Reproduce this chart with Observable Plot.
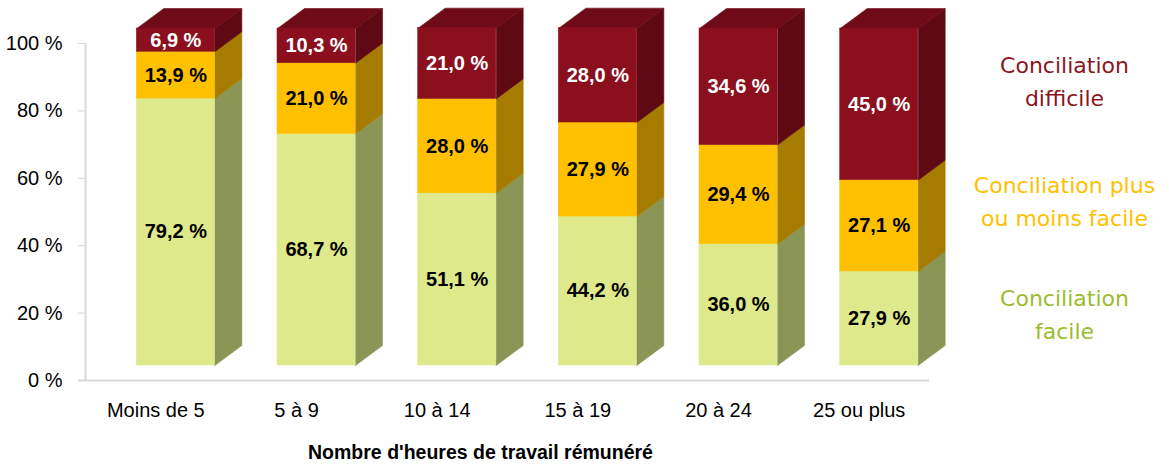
<!DOCTYPE html>
<html>
<head>
<meta charset="utf-8">
<script src="https://cdn.jsdelivr.net/npm/d3@7"></script>
<script src="https://cdn.jsdelivr.net/npm/@observablehq/plot@0.6"></script>
<style>
  html, body { margin: 0; padding: 0; background: #fff; }
  #wrap { position: relative; width: 1169px; height: 466px; overflow: hidden; }
  #chart { position: absolute; left: 0; top: 0; }
  .leg { position: absolute; left: 960px; width: 209px; text-align: center;
         font-family: "DejaVu Sans", sans-serif; font-size: 22px; line-height: 33px; }
</style>
</head>
<body>
<div id="wrap">
  <div id="chart"></div>
</div>
<script>
// ---- data ----
const categories = ["Moins de 5", "5 à 9", "10 à 14", "15 à 19", "20 à 24", "25 ou plus"];
const facile     = [79.2, 68.7, 51.1, 44.2, 36.0, 27.9];
const moyen      = [13.9, 21.0, 28.0, 27.9, 29.4, 27.1];
const difficile  = [6.9, 10.3, 21.0, 28.0, 34.6, 45.0];
const seriesNames = ["Conciliation facile", "Conciliation plus ou moins facile", "Conciliation difficile"];
const legendLines = [["Conciliation", "difficile"], ["Conciliation plus", "ou moins facile"], ["Conciliation", "facile"]];
const yTicks = [0, 20, 40, 60, 80, 100];
const axisTitle = "Nombre d'heures de travail rémunéré";

// ---- styles ----
const frontColors = ["#DDE98A", "#FFC000", "#8C0F1E"];
const sideColors  = ["#8B9656", "#A67C00", "#5E0913"];
const topColor    = "#6F0B17";
const legendColors = ["#8C1522", "#FFC000", "#9CBB2E"];
const labelColors = ["#000", "#000", "#fff"];

const W = 960, H = 466, mL = 85, mR = 31, mT = 43, mB = 86;
const shift = {dx: 20, dy: -15};     // front-face perspective shift (px)
const depthPx = {x: 27, y: 20};      // extrusion depth (px)
const barPx = 78;                    // front-face width (px)
const stepPx = (W - mL - mR) / categories.length;
const hw = barPx / 2 / stepPx;                   // half-width in x units
const ddx = depthPx.x / stepPx;                  // depth in x units
const ddy = depthPx.y / ((H - mT - mB) / 100);   // depth in y units

const seriesVals = [facile, moyen, difficile];
const segs = [];
categories.forEach((c, i) => {
  let acc = 0;
  seriesVals.forEach((vals, s) => {
    const v = vals[i];
    segs.push({i, s, y1: acc, y2: acc + v, v, top: s === seriesVals.length - 1});
    acc += v;
  });
});

// side faces (parallelograms) built from segment extents
const sidePts = [];
segs.forEach((d, k) => {
  const xr = d.i + hw;
  [[xr, d.y1], [xr + ddx, d.y1 + ddy], [xr + ddx, d.y2 + ddy], [xr, d.y2]]
    .forEach(([x, y]) => sidePts.push({id: k, s: d.s, x, y}));
});
// top faces of the uppermost segment
const topPts = [];
segs.filter(d => d.top).forEach((d, k) => {
  const xl = d.i - hw, xr = d.i + hw;
  [[xl, d.y2], [xl + ddx, d.y2 + ddy], [xr + ddx, d.y2 + ddy], [xr, d.y2]]
    .forEach(([x, y]) => topPts.push({id: k, x, y}));
});

const fmt = v => v.toFixed(1).replace(".", ",") + " %";
const sans = "'Liberation Sans', Arial, sans-serif";

const marks = [
  Plot.ruleX([-0.5], {y1: 0, y2: 100, stroke: "#D9D9D9", strokeWidth: 2}),
  Plot.ruleY([0], {x1: -0.5 - 7 / stepPx, x2: 5.5, stroke: "#D9D9D9", strokeWidth: 2}),
  Plot.axisY(yTicks, {tickSize: 7, tickPadding: 16, tickFormat: d => d + " %", stroke: "#D9D9D9",
    fill: "#000", fontSize: 20, fontFamily: sans}),
  Plot.axisX(d3.range(categories.length), {tickSize: 0, tickPadding: 22, tickFormat: i => categories[i],
    fill: "#000", fontSize: 20, fontFamily: sans, label: null}),
];
seriesVals.forEach((_, s) => {
  marks.push(Plot.line(sidePts.filter(p => p.s === s), {x: "x", y: "y", z: "id",
    fill: sideColors[s], stroke: sideColors[s], strokeWidth: 0.6, curve: "linear-closed", ...shift}));
});
marks.push(Plot.line(topPts, {x: "x", y: "y", z: "id", fill: topColor, stroke: topColor,
  strokeWidth: 0.6, curve: "linear-closed", ...shift}));
seriesVals.forEach((_, s) => {
  marks.push(Plot.rect(segs.filter(d => d.s === s), {x1: d => d.i - hw, x2: d => d.i + hw,
    y1: "y1", y2: "y2", fill: frontColors[s], stroke: frontColors[s], strokeWidth: 0.5, ...shift}));
});
seriesVals.forEach((_, s) => {
  marks.push(Plot.text(segs.filter(d => d.s === s), {x: "i", y: d => (d.y1 + d.y2) / 2,
    text: d => fmt(d.v), fill: labelColors[s], fontWeight: "bold", fontSize: 20, fontFamily: sans, ...shift}));
});
marks.push(Plot.text([axisTitle], {frameAnchor: "bottom", text: d => d, lineAnchor: "middle",
  dx: -27, dy: 72, fontWeight: "bold", fontSize: 19.5, fontFamily: sans, fill: "#000"}));

const chart = Plot.plot({
  width: W, height: H,
  marginLeft: mL, marginRight: mR, marginTop: mT, marginBottom: mB,
  x: {type: "linear", domain: [-0.5, categories.length - 0.5], axis: null},
  y: {domain: [0, 100], axis: null},
  style: {background: "#fff", overflow: "visible"},
  marks
});
document.getElementById("chart").appendChild(chart);

// legend (right side), top to bottom: difficile, plus ou moins, facile
const wrap = document.getElementById("wrap");
const legendTops = [48.5, 168.5, 281.5];
legendLines.forEach((lines, k) => {
  const div = document.createElement("div");
  div.className = "leg";
  div.style.top = legendTops[k] + "px";
  div.style.color = legendColors[k];
  lines.forEach(t => { const l = document.createElement("div"); l.textContent = t; div.appendChild(l); });
  wrap.appendChild(div);
});
</script>
</body>
</html>
